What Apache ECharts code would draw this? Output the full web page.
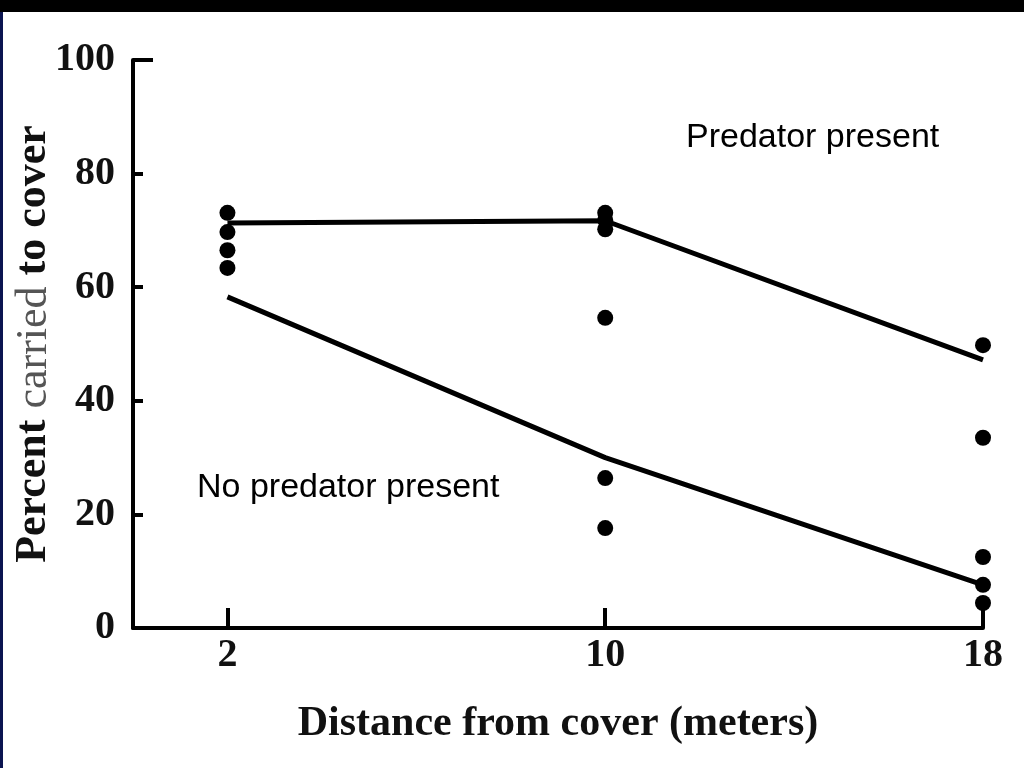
<!DOCTYPE html>
<html><head><meta charset="utf-8">
<style>html,body{margin:0;padding:0;background:#fff;}#c{width:1024px;height:768px;}</style>
<script src="https://cdn.jsdelivr.net/npm/echarts@6/dist/echarts.min.js"></script>
</head><body><div id="c"></div>
<script>
// Distances (m) with tick labels
const xTicks = [2, 10, 18];
const yTicks = [0, 20, 40, 60, 80, 100];
// Observed points (percent carried to cover)
const obs2 = [73.1, 69.7, 66.5, 63.4];
const obs10 = [73.1, 71.8, 70.2, 54.6, 26.4, 17.6];
const obs18 = [49.8, 33.5, 12.5, 7.6, 4.4];
// Fitted lines
const predatorLine = [71.3, 71.7, 47.2];
const noPredatorLine = [58.3, 30.0, 7.6];
const labelPredator = 'Predator present';
const labelNoPredator = 'No predator present';

const points = [];
obs2.forEach(v => points.push([2, v]));
obs10.forEach(v => points.push([10, v]));
obs18.forEach(v => points.push([18, v]));

const serif = '"Liberation Serif","DejaVu Serif",serif';
const chart = echarts.init(document.getElementById('c'));
chart.setOption({
  backgroundColor: '#fff',
  animation: false,
  grid: {left: 133, right: 41, top: 60, bottom: 140, containLabel: false, outerBoundsMode: 'none'},
  xAxis: {
    type: 'value', min: 0, max: 18,
    name: 'Distance from cover (meters)', nameLocation: 'middle', nameGap: 75,
    nameTextStyle: {fontFamily: serif, fontWeight: 'bold', fontSize: 42, color: '#111'},
    axisLine: {lineStyle: {color: '#000', width: 4}},
    axisTick: {show: true, inside: true, length: 20, customValues: xTicks, lineStyle: {color: '#000', width: 4}},
    axisLabel: {customValues: xTicks, fontFamily: serif, fontWeight: 'bold', fontSize: 40, color: '#111', margin: 8},
    splitLine: {show: false}
  },
  yAxis: [{
    type: 'value', min: 0, max: 100, interval: 20,
    name: '{b|Percent }{n|carried }{b|to cover}', nameLocation: 'middle', nameGap: 77, nameRotate: 90,
    nameMoveOverlap: false,
    nameTextStyle: {rich: {
      b: {fontFamily: serif, fontWeight: 'bold', fontSize: 44, color: '#111'},
      n: {fontFamily: serif, fontWeight: 'normal', fontSize: 44, color: '#555'}
    }},
    axisLine: {show: true, lineStyle: {color: '#000', width: 4}},
    axisTick: {show: true, inside: true, length: 10, customValues: yTicks.slice(1, 5), lineStyle: {color: '#000', width: 4}},
    axisLabel: {customValues: yTicks, fontFamily: serif, fontWeight: 'bold', fontSize: 40, color: '#111', margin: 18},
    splitLine: {show: false}
  }, {
    type: 'value', min: 0, max: 100, position: 'left', offset: 0,
    axisLine: {show: false},
    axisTick: {show: true, inside: true, length: 20, customValues: [100], lineStyle: {color: '#000', width: 4}},
    axisLabel: {show: false},
    splitLine: {show: false}
  }],
  series: [
    {type: 'line', data: xTicks.map((x, i) => [x, predatorLine[i]]), showSymbol: false,
     lineStyle: {color: '#000', width: 5}, z: 3},
    {type: 'line', data: xTicks.map((x, i) => [x, noPredatorLine[i]]), showSymbol: false,
     lineStyle: {color: '#000', width: 5}, z: 3},
    {type: 'scatter', data: points, symbolSize: 16, itemStyle: {color: '#000', opacity: 1}, z: 4}
  ],
  graphic: [
    {type: 'rect', shape: {x: 0, y: 0, width: 1024, height: 12}, style: {fill: '#000'}},
    {type: 'rect', shape: {x: 0, y: 12, width: 3, height: 756}, style: {fill: '#0b1450'}},
    {type: 'text', left: 686, top: 121, style: {text: labelPredator, font: '34px "Liberation Sans", Arial, sans-serif', fill: '#000'}},
    {type: 'text', left: 197, top: 471, style: {text: labelNoPredator, font: '34px "Liberation Sans", Arial, sans-serif', fill: '#000'}}
  ]
});
</script></body></html>
